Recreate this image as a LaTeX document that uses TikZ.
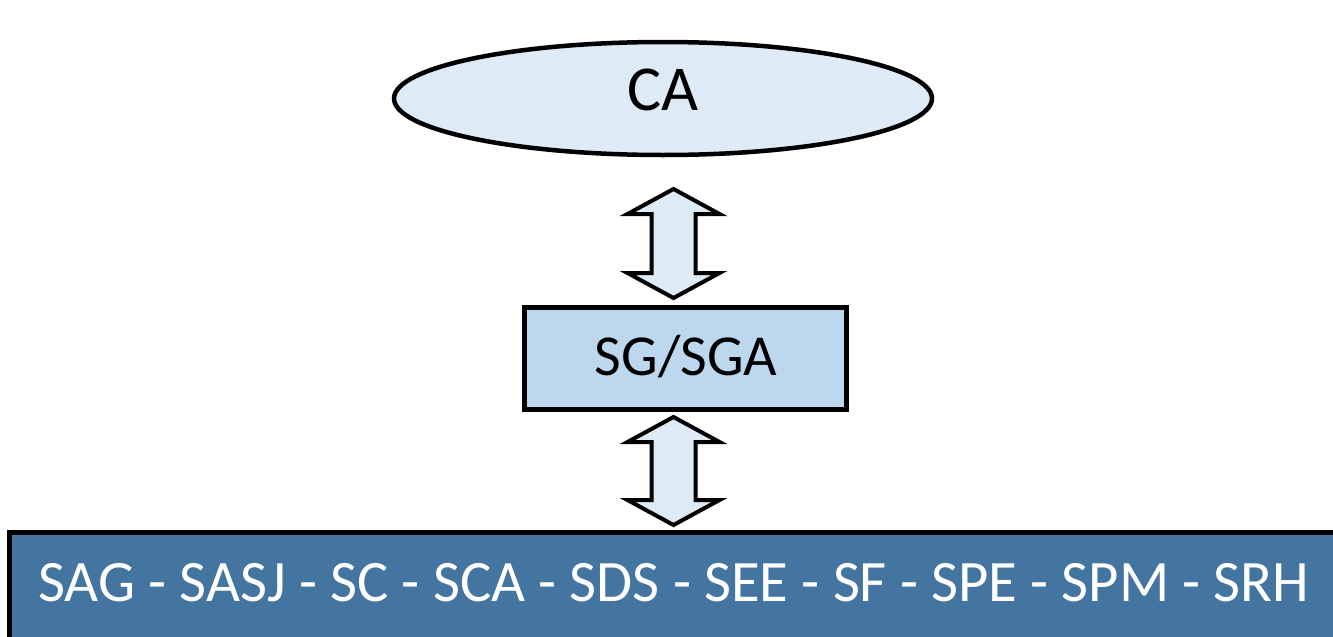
\documentclass[tikz,border=0pt]{standalone}
\usepackage{fontspec}
\setmainfont{Carlito}
\usetikzlibrary{shapes.geometric,calc}
\definecolor{ellfill}{HTML}{DEEAF6}
\definecolor{boxfill}{HTML}{BDD7EE}
\definecolor{basefill}{HTML}{4474A0}
\tikzset{
  outl/.style={draw=black, line width=4.5pt, line join=miter},
  blockarrow/.style={draw=black, line width=4pt, fill=ellfill, line join=miter},
  lbl/.style={inner sep=0pt, text depth=0pt}
}
\begin{document}
\begin{tikzpicture}[x=1pt,y=-1pt]
\useasboundingbox (0,0) rectangle (1333,637);
% top ellipse
\node[outl, ellipse, fill=ellfill, minimum width=538, minimum height=113, inner sep=0pt] (ca) at (663,98.5) {};
\node[lbl, font=\fontsize{64}{70}\selectfont] (catext) at (663,89.5) {CA};
% middle box
\node[outl, rectangle, fill=boxfill, minimum width=322, minimum height=102, inner sep=0pt] (sg) at (685.5,358.5) {};
\node[lbl, font=\fontsize{58}{64}\selectfont] (sgtext) at (686,355.5) {SG/SGA};
% bottom box
\begin{scope}
\clip (0,0) rectangle (1333,637);
\node[outl, rectangle, fill=basefill, minimum width=1331, minimum height=111, inner sep=0pt] (base) at (675,588) {};
\end{scope}
\node[lbl, text=white, font=\fontsize{58.7}{64}\selectfont] (basetext) at (674,582) {SAG - SASJ - SC - SCA - SDS - SEE - SF - SPE - SPM - SRH};
% double block arrows
\coordinate (a1t) at (673.5,189);
\coordinate (a1b) at (673.5,298);
\coordinate (a2t) at (673.5,417);
\coordinate (a2b) at (673.5,525);
\draw[blockarrow] (a1t) -- ++(46,25) -- ++(-24,0) |- ($(a1b)+(22,-25)$) -- ++(24,0) -- (a1b)
  -- ++(-46,-25) -- ++(24,0) |- ($(a1t)+(-22,25)$) -- ++(-24,0) -- cycle;
\draw[blockarrow] (a2t) -- ++(46,25) -- ++(-24,0) |- ($(a2b)+(22,-25)$) -- ++(24,0) -- (a2b)
  -- ++(-46,-25) -- ++(24,0) |- ($(a2t)+(-22,25)$) -- ++(-24,0) -- cycle;
\end{tikzpicture}
\end{document}
